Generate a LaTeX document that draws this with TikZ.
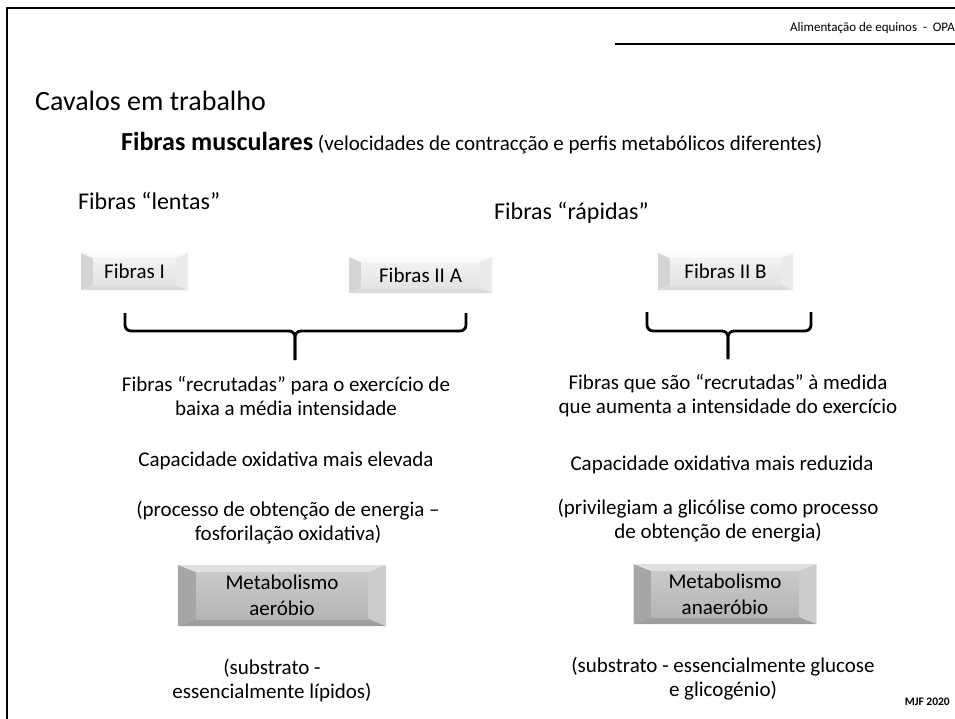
\documentclass[tikz,border=0pt]{standalone}
\usepackage{fontspec}
\setmainfont{Carlito}
\usetikzlibrary{calc}

% bevelled button: inset x, inset y, left, top, right, bottom, face top, face bottom
\newcommand\bevelpaint[8]{%
  \path (path picture bounding box.south west) coordinate (bsw)
        (path picture bounding box.north east) coordinate (bne)
        (path picture bounding box.north west) coordinate (bnw)
        (path picture bounding box.south east) coordinate (bse);
  \path ($(bsw)+(#1pt,#2pt)$) coordinate (isw)
        ($(bne)+(-#1pt,-#2pt)$) coordinate (ine)
        ($(bnw)+(#1pt,-#2pt)$) coordinate (inw)
        ($(bse)+(-#1pt,#2pt)$) coordinate (ise);
  \fill[#3] (bsw) -- (bnw) -- (inw) -- (isw) -- cycle;
  \fill[#4] (bnw) -- (bne) -- (ine) -- (inw) -- cycle;
  \fill[#5] (bne) -- (bse) -- (ise) -- (ine) -- cycle;
  \fill[#6] (bse) -- (bsw) -- (isw) -- (ise) -- cycle;
  \shade[top color=#7, bottom color=#8] (isw) rectangle (ine);
}

\tikzset{
  body/.style={align=center, inner sep=0pt, font=\fontsize{21}{24}\selectfont},
  fibrebox/.style={inner sep=0pt, font=\fontsize{21}{24}\selectfont,
    path picture={\bevelpaint{12}{5}{black!17}{black!2}{black!8}{black!14}{black!5}{black!11}}},
  metabbox/.style={inner sep=0pt, align=center, font=\fontsize{21}{26}\selectfont,
    path picture={\bevelpaint{18}{7}{black!35}{black!12}{black!20}{black!38}{black!21}{black!29}}},
  brace/.style={line width=2.8pt, rounded corners=6pt}
}

\begin{document}
\begin{tikzpicture}[x=1pt, y=-1pt]
    \useasboundingbox (0,0) rectangle (955,718);

    % slide frame and header
    \draw[line width=2.2pt] (7,725) -- (7,8) -- (962,8);
    \draw[line width=1.6pt] (615,44) -- (962,44);
    \node[anchor=east, inner sep=0pt, font=\fontsize{13}{15}\selectfont] (header) at (955,28) {Alimentação de equinos \ - \ OPA};
    \node[anchor=east, inner sep=0pt, font=\fontsize{11.5}{13}\selectfont\bfseries] (mjf) at (950,702) {MJF 2020};

    % titles
    \node[anchor=west, inner sep=0pt, font=\fontsize{28}{32}\selectfont] (title) at (35,101) {Cavalos em trabalho};
    \node[anchor=west, inner sep=0pt, font=\fontsize{21}{24}\selectfont] (subtitle) at (121,143)
      {{\fontsize{26}{28}\selectfont\bfseries Fibras musculares} (velocidades de contracção e perfis metabólicos diferentes)};
    \node[anchor=west, inner sep=0pt, font=\fontsize{24}{28}\selectfont] (slow) at (78,201) {Fibras “lentas”};
    \node[anchor=west, inner sep=0pt, font=\fontsize{24}{28}\selectfont] (fast) at (494,213) {Fibras “rápidas”};

    % fibre types
    \node[fibrebox, minimum width=107pt, minimum height=37pt] (typeI) at (134.5,271.5) {Fibras I};
    \node[fibrebox, minimum width=143pt, minimum height=36pt] (typeIIA) at (420.5,275) {Fibras II A};
    \node[fibrebox, minimum width=135pt, minimum height=37pt] (typeIIB) at (725.5,271.5) {Fibras II B};

    % braces
    \coordinate (lbA) at (125,313); \coordinate (lbB) at (466,313);
    \coordinate (lbM) at (295,331); \coordinate (lbT) at (295,360);
    \draw[brace] (lbA) -- (lbA |- lbM) -- (lbM) -- (lbT);
    \draw[brace] (lbB) -- (lbB |- lbM) -- (lbM) -- (lbT);
    \coordinate (rbA) at (647,312); \coordinate (rbB) at (811,312);
    \coordinate (rbM) at (728,331); \coordinate (rbT) at (728,359);
    \draw[brace] (rbA) -- (rbA |- rbM) -- (rbM) -- (rbT);
    \draw[brace] (rbB) -- (rbB |- rbM) -- (rbM) -- (rbT);

    % left column
    \node[body] (recruitL) at (286,396) {Fibras “recrutadas” para o exercício de\\baixa a média intensidade};
    \node[body] (oxL) at (286,461) {Capacidade oxidativa mais elevada};
    \node[body] (procL) at (288,523) {(processo de obtenção de energia –\\fosforilação oxidativa)};
    \node[metabbox, minimum width=208pt, minimum height=61pt] (aero) at (282,595.5) {Metabolismo\\aeróbio};
    \node[body] (subL) at (272,681) {(substrato -\\essencialmente lípidos)};

    % right column
    \node[body] (recruitR) at (728,396) {Fibras que são “recrutadas” à medida\\que aumenta a intensidade do exercício};
    \node[body] (oxR) at (722,465) {Capacidade oxidativa mais reduzida};
    \node[body] (procR) at (718,521) {(privilegiam a glicólise como processo\\de obtenção de energia)};
    \node[metabbox, minimum width=183pt, minimum height=60pt] (anaero) at (725,594) {Metabolismo\\anaeróbio};
    \node[body] (subR) at (723,679) {(substrato - essencialmente glucose\\e glicogénio)};
  \end{tikzpicture}
\end{document}
